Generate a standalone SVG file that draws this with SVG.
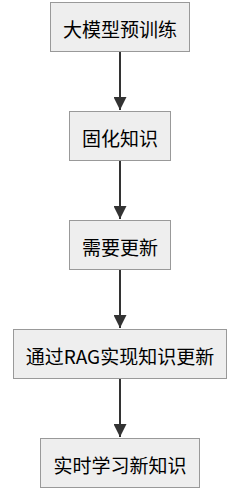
<svg xmlns="http://www.w3.org/2000/svg" width="243" height="492" viewBox="0 0 243 492">
<style>
.node rect{fill:#eeeeee;stroke:#999999;stroke-width:1px}
.node text{font-family:"Noto Sans CJK SC","Liberation Sans",sans-serif;font-size:19px;fill:#000;text-anchor:middle;dominant-baseline:central}
.edge{stroke:#333333;stroke-width:2px;fill:none}
</style>
<defs>
<marker id="arrow" viewBox="0 0 10 10" refX="10" refY="5" markerWidth="6.5" markerHeight="6.5" orient="auto" markerUnits="strokeWidth">
<path d="M0,0 L10,5 L0,10 z" fill="#333333"/>
</marker>
</defs>
<g id="connectors">
<path class="edge" d="M120,52 L120,110" marker-end="url(#arrow)"/>
<path class="edge" d="M120,161 L120,219" marker-end="url(#arrow)"/>
<path class="edge" d="M120,270 L120,328" marker-end="url(#arrow)"/>
<path class="edge" d="M120,379 L120,437" marker-end="url(#arrow)"/>
</g>
<g id="n1" class="node"><rect x="50.5" y="2.5" width="139" height="49"/><text x="120" y="28">大模型预训练</text></g>
<g id="n2" class="node"><rect x="69.5" y="111.5" width="101" height="49"/><text x="120" y="137">固化知识</text></g>
<g id="n3" class="node"><rect x="69.5" y="220.5" width="101" height="49"/><text x="120" y="246">需要更新</text></g>
<g id="n4" class="node"><rect x="13.5" y="329.5" width="213" height="49"/><text x="120" y="355">通过RAG实现知识更新</text></g>
<g id="n5" class="node"><rect x="40.5" y="438.5" width="159" height="49"/><text x="120" y="464">实时学习新知识</text></g>
</svg>
